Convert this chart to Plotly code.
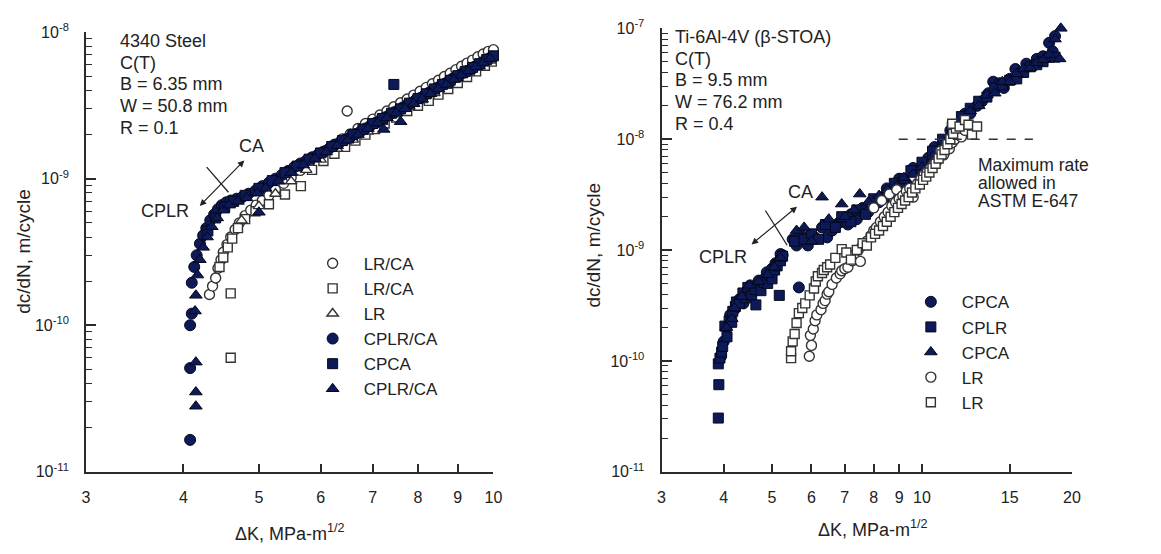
import plotly.graph_objects as go

# ---------------- 4340 steel, C(T), R = 0.1 ----------------
steel_lrca_circ_dk = [4.32, 4.36, 4.40, 4.43, 4.47, 4.50, 4.55, 4.60, 4.66, 4.72, 4.80, 4.88, 4.96, 5.05,
                      5.15, 5.25, 5.38, 5.50, 5.65, 5.80, 5.95, 6.10, 6.25, 6.40, 6.49, 6.55, 6.70, 6.85,
                      7.00, 7.15, 7.30, 7.45, 7.60, 7.75, 7.90, 8.05, 8.20, 8.35, 8.50, 8.65, 8.80, 8.95,
                      9.10, 9.25, 9.40, 9.55, 9.70, 9.85, 10.0]
steel_lrca_circ_rate = [1.62e-10, 1.85e-10, 2.1e-10, 2.45e-10, 2.8e-10, 3.15e-10, 3.55e-10, 4.0e-10, 4.5e-10,
                        5.0e-10, 5.6e-10, 6.1e-10, 6.6e-10, 7.1e-10, 7.7e-10, 8.4e-10, 9.3e-10, 1.02e-9,
                        1.14e-9, 1.28e-9, 1.42e-9, 1.56e-9, 1.72e-9, 1.87e-9, 2.9e-9, 2.02e-9, 2.2e-9,
                        2.38e-9, 2.55e-9, 2.72e-9, 2.9e-9, 3.1e-9, 3.3e-9, 3.5e-9, 3.72e-9, 3.95e-9, 4.2e-9,
                        4.45e-9, 4.7e-9, 4.98e-9, 5.25e-9, 5.55e-9, 5.85e-9, 6.15e-9, 6.45e-9, 6.8e-9,
                        7.1e-9, 7.4e-9, 7.6e-9]

steel_lrca_sq_dk = [4.60, 4.60, 4.45, 4.50, 4.56, 4.62, 4.70, 4.80, 4.95, 5.15, 5.40, 5.66, 5.85, 6.05,
                    6.25, 6.45, 6.65, 6.85, 7.05, 7.25, 7.50, 7.75, 8.00, 8.26, 8.50, 8.75, 9.00, 9.25,
                    9.50, 9.75, 9.95]
steel_lrca_sq_rate = [1.65e-10, 6.0e-11, 2.5e-10, 2.9e-10, 3.4e-10, 3.9e-10, 4.6e-10, 5.3e-10, 6.0e-10,
                      6.7e-10, 7.8e-10, 8.9e-10, 1.15e-9, 1.32e-9, 1.48e-9, 1.65e-9, 1.82e-9, 2.0e-9,
                      2.18e-9, 2.38e-9, 2.62e-9, 2.9e-9, 3.15e-9, 3.4e-9, 3.75e-9, 4.1e-9, 4.5e-9,
                      4.95e-9, 5.4e-9, 5.9e-9, 6.3e-9]

steel_lr_tri_dk = [4.75, 5.00, 5.25, 5.50, 5.75, 6.00, 6.30, 6.60, 6.90, 7.20, 7.50, 7.80, 8.10, 8.40,
                   8.70, 9.00, 9.30, 9.60, 9.90]
steel_lr_tri_rate = [5.2e-10, 6.5e-10, 7.9e-10, 9.6e-10, 1.15e-9, 1.35e-9, 1.6e-9, 1.85e-9, 2.1e-9,
                     2.45e-9, 2.75e-9, 3.1e-9, 3.45e-9, 3.85e-9, 4.3e-9, 4.8e-9, 5.3e-9, 5.85e-9, 6.4e-9]

steel_cplrca_circ_dk = [4.08, 4.08, 4.08, 4.10, 4.10, 4.13, 4.16, 4.20, 4.24, 4.28, 4.33, 4.38, 4.43, 4.48,
                        4.54, 4.60, 4.68, 4.76, 4.85, 4.95, 5.05, 5.15, 5.25, 5.35, 5.45, 5.55, 5.65, 5.75,
                        5.85, 5.95, 6.05, 6.15, 6.25, 6.35, 6.45, 6.55, 6.65, 6.75, 6.85, 6.95, 7.05, 7.15,
                        7.25, 7.35, 7.45, 7.55, 7.65, 7.75, 7.85, 7.95, 8.05, 8.15, 8.25, 8.35, 8.45, 8.55,
                        8.65, 8.75, 8.85, 8.95, 9.05, 9.15, 9.25, 9.35, 9.45, 9.55, 9.65, 9.75, 9.85, 9.95]
steel_cplrca_circ_rate = [1.65e-11, 5.1e-11, 1.0e-10, 1.2e-10, 1.95e-10, 2.5e-10, 3.0e-10, 3.6e-10, 4.1e-10,
                          4.6e-10, 5.2e-10, 5.7e-10, 6.2e-10, 6.6e-10, 6.9e-10, 7.1e-10, 7.3e-10, 7.5e-10,
                          7.9e-10, 8.3e-10, 8.9e-10, 9.4e-10, 1.0e-9, 1.06e-9, 1.13e-9, 1.2e-9, 1.27e-9,
                          1.33e-9, 1.4e-9, 1.46e-9, 1.53e-9, 1.6e-9, 1.69e-9, 1.77e-9, 1.85e-9, 1.92e-9,
                          2.02e-9, 2.1e-9, 2.2e-9, 2.3e-9, 2.4e-9, 2.5e-9, 2.62e-9, 2.72e-9, 2.84e-9, 2.95e-9,
                          3.07e-9, 3.2e-9, 3.3e-9, 3.45e-9, 3.55e-9, 3.7e-9, 3.85e-9, 4.0e-9, 4.15e-9, 4.3e-9,
                          4.45e-9, 4.6e-9, 4.8e-9, 4.95e-9, 5.1e-9, 5.3e-9, 5.45e-9, 5.6e-9, 5.8e-9, 6.0e-9,
                          6.2e-9, 6.4e-9, 6.6e-9, 6.8e-9]

steel_cpca_sq_dk = [4.30, 4.40, 4.52, 4.64, 4.80, 5.00, 5.20, 5.40, 5.60, 5.80, 6.00, 6.20, 6.40, 6.60,
                    6.80, 7.00, 7.20, 7.45, 7.40, 7.60, 7.80, 8.00, 8.20, 8.40, 8.60, 8.80, 9.00, 9.20,
                    9.40, 9.60, 9.80, 10.0]
steel_cpca_sq_rate = [4.4e-10, 5.4e-10, 6.4e-10, 7.0e-10, 7.7e-10, 8.6e-10, 9.7e-10, 1.1e-9, 1.22e-9,
                      1.36e-9, 1.5e-9, 1.66e-9, 1.82e-9, 2.0e-9, 2.18e-9, 2.38e-9, 2.58e-9, 4.4e-9, 2.8e-9,
                      3.0e-9, 3.28e-9, 3.52e-9, 3.8e-9, 4.1e-9, 4.4e-9, 4.7e-9, 5.05e-9, 5.4e-9, 5.75e-9,
                      6.1e-9, 6.5e-9, 6.9e-9]

steel_cplrca_tri_dk = [4.15, 4.15, 4.15, 4.14, 4.15, 4.17, 4.20, 4.24, 4.29, 4.35, 4.42, 4.50, 4.58, 4.70,
                       4.82, 5.00, 4.98, 5.10, 5.30, 5.50, 5.70, 5.90, 6.10, 6.30, 6.50, 6.70, 6.90, 7.10,
                       7.23, 7.30, 7.50, 7.60, 7.70, 7.90, 8.10, 8.30, 8.50, 8.70, 8.90, 9.10, 9.30, 9.50,
                       9.70, 9.90]
steel_cplrca_tri_rate = [2.8e-11, 3.5e-11, 5.6e-11, 1.25e-10, 1.6e-10, 2.2e-10, 2.8e-10, 3.4e-10, 4.0e-10,
                         4.7e-10, 5.4e-10, 6.1e-10, 6.6e-10, 7.0e-10, 7.4e-10, 5.9e-10, 8.0e-10, 8.6e-10,
                         9.6e-10, 1.1e-9, 1.24e-9, 1.37e-9, 1.52e-9, 1.68e-9, 1.83e-9, 2.0e-9, 2.2e-9, 2.4e-9,
                         2.17e-9, 2.6e-9, 2.8e-9, 2.45e-9, 3.0e-9, 3.25e-9, 3.5e-9, 3.8e-9, 4.1e-9, 4.4e-9,
                         4.75e-9, 5.1e-9, 5.45e-9, 5.8e-9, 6.2e-9, 6.6e-9]

# ---------------- Ti-6Al-4V (beta-STOA), C(T), R = 0.4 ----------------
ti_cpca_circ_dk = [3.95, 4.00, 4.05, 4.12, 4.20, 4.30, 4.38, 4.45, 4.52, 4.60, 4.70, 4.80, 4.88, 4.95,
                   5.00, 5.08, 5.15, 5.20, 5.25, 5.66, 5.50, 5.60, 5.70, 5.90, 6.00, 6.10, 6.30, 6.45,
                   6.60, 6.80, 6.90, 7.10, 7.20, 7.40, 7.60, 7.80, 8.00, 8.20, 8.50, 8.70, 9.00, 9.30,
                   9.60, 9.90, 10.3, 10.6, 11.0, 11.4, 11.8, 12.2, 12.5, 12.9, 13.2, 13.6, 13.9, 14.3,
                   14.6, 15.0, 15.4, 15.8, 16.2, 16.6, 17.0, 17.5, 18.0, 18.3, 18.5]
ti_cpca_circ_rate = [1.1e-10, 1.5e-10, 2.0e-10, 2.6e-10, 2.9e-10, 3.6e-10, 3.3e-10, 4.3e-10, 4.8e-10,
                     4.6e-10, 5.3e-10, 5.4e-10, 6.3e-10, 5.8e-10, 6.8e-10, 7.6e-10, 7.8e-10, 9.2e-10,
                     9.0e-10, 4.6e-10, 1.25e-9, 1.1e-9, 1.4e-9, 1.1e-9, 1.25e-9, 1.3e-9, 1.6e-9, 1.3e-9,
                     1.5e-9, 1.75e-9, 1.8e-9, 1.7e-9, 2.1e-9, 1.9e-9, 2.4e-9, 2.2e-9, 2.8e-9, 2.7e-9,
                     3.6e-9, 3.3e-9, 4.4e-9, 4.0e-9, 5.5e-9, 5.3e-9, 6.8e-9, 8.5e-9, 9.0e-9, 1.2e-8,
                     1.2e-8, 1.7e-8, 1.7e-8, 2.0e-8, 2.2e-8, 2.6e-8, 3.3e-8, 3.2e-8, 2.9e-8, 3.5e-8,
                     4.3e-8, 4.0e-8, 4.8e-8, 4.6e-8, 5.3e-8, 5.6e-8, 7.4e-8, 6.2e-8, 8.5e-8]

ti_cplr_sq_dk = [3.90, 3.91, 3.90, 3.93, 3.96, 3.98, 4.02, 4.06, 4.10, 4.15, 4.17, 4.22, 4.24, 4.30, 4.37,
                 4.42, 4.47, 4.55, 4.64, 4.62, 4.75, 4.82, 4.90, 4.96, 5.00, 5.06, 5.12, 5.17, 5.20, 5.25,
                 5.55, 5.80, 6.00, 6.20, 6.40, 6.70, 6.90, 7.20, 7.40, 7.70, 8.00, 8.40, 8.80, 9.20,
                 9.50, 10.0, 10.5, 11.0, 11.5, 12.0, 12.5, 13.0, 13.5, 14.0, 14.5, 15.0, 15.5, 16.0,
                 16.5, 17.0, 17.5, 18.0, 18.5]
ti_cplr_sq_rate = [3.05e-11, 6.1e-11, 9.4e-11, 1.06e-10, 1.2e-10, 1.35e-10, 2.06e-10, 1.65e-10, 2.3e-10,
                   2.23e-10, 2.8e-10, 3.1e-10, 3.4e-10, 3.3e-10, 4.1e-10, 3.7e-10, 4.6e-10, 3.9e-10,
                   3.2e-10, 4.4e-10, 4.3e-10, 5.1e-10, 5.0e-10, 5.9e-10, 5.5e-10, 6.6e-10, 7.2e-10,
                   3.9e-10, 8.0e-10, 8.8e-10, 1.2e-9, 1.25e-9, 1.4e-9, 1.25e-9, 1.7e-9, 1.6e-9, 2.0e-9,
                   1.8e-9, 2.3e-9, 2.1e-9, 2.9e-9, 3.0e-9, 4.0e-9, 4.4e-9, 5.2e-9, 6.2e-9, 7.8e-9,
                   1.0e-8, 1.3e-8, 1.6e-8, 1.9e-8, 2.2e-8, 2.4e-8, 2.9e-8, 3.1e-8, 3.4e-8, 3.5e-8,
                   4.0e-8, 4.5e-8, 4.7e-8, 5.0e-8, 5.5e-8, 5.5e-8]

ti_cpca_tri_dk = [4.05, 4.15, 4.20, 4.35, 4.50, 4.70, 4.90, 5.05, 5.20, 5.60, 5.80, 6.00, 6.30, 6.50,
                  6.90, 7.00, 7.30, 7.50, 7.80, 8.20, 8.50, 8.90, 9.20, 9.60, 10.0, 10.5, 11.0, 11.5,
                  12.0, 12.5, 13.0, 13.5, 14.0, 14.5, 15.0, 15.5, 16.0, 16.5, 17.0, 17.5, 18.0, 18.5,
                  18.9, 19.0]
ti_cpca_tri_rate = [2.0e-10, 2.4e-10, 3.0e-10, 3.8e-10, 4.8e-10, 5.2e-10, 6.0e-10, 7.0e-10, 8.5e-10,
                    1.5e-9, 1.6e-9, 1.2e-9, 3.0e-9, 1.9e-9, 2.6e-9, 2.0e-9, 2.3e-9, 3.2e-9, 2.7e-9,
                    3.1e-9, 3.5e-9, 3.8e-9, 4.5e-9, 4.8e-9, 5.6e-9, 7.0e-9, 8.5e-9, 1.1e-8, 1.3e-8,
                    1.8e-8, 2.0e-8, 2.5e-8, 2.6e-8, 3.3e-8, 3.3e-8, 3.9e-8, 4.3e-8, 4.4e-8, 4.9e-8,
                    5.2e-8, 5.8e-8, 8.0e-8, 5.3e-8, 1.0e-7]

ti_lr_circ_dk = [5.94, 6.00, 5.97, 6.05, 6.10, 6.15, 6.27, 6.33, 6.39, 6.45, 6.50, 6.60, 6.73, 6.85,
                 6.90, 7.00, 7.10, 7.25, 7.30, 7.52, 7.45, 7.60, 7.75, 7.90, 8.00, 8.10, 8.00, 8.25,
                 8.30, 8.40, 8.55, 8.60, 8.70, 8.85, 8.90, 9.00, 9.15, 9.30, 9.45, 9.60, 9.80, 9.95,
                 10.1, 10.25, 10.4, 10.55, 10.7, 10.9, 11.05, 11.2, 11.35, 11.5, 11.65, 11.8, 12.0,
                 12.2]
ti_lr_circ_rate = [1.1e-10, 1.38e-10, 1.7e-10, 1.94e-10, 2.3e-10, 2.6e-10, 2.9e-10, 3.3e-10, 3.5e-10,
                   4.0e-10, 4.2e-10, 4.9e-10, 5.6e-10, 6.1e-10, 6.5e-10, 6.8e-10, 7.0e-10, 8.0e-10,
                   9.0e-10, 7.9e-10, 1.0e-9, 1.1e-9, 1.2e-9, 1.35e-9, 1.5e-9, 1.6e-9, 2.4e-9, 1.8e-9,
                   2.8e-9, 2.0e-9, 2.2e-9, 3.2e-9, 2.5e-9, 2.7e-9, 3.5e-9, 2.9e-9, 3.1e-9, 3.4e-9,
                   3.6e-9, 3.0e-9, 4.0e-9, 4.4e-9, 4.8e-9, 5.1e-9, 5.5e-9, 5.9e-9, 6.3e-9, 7.8e-9,
                   7.2e-9, 8.7e-9, 8.2e-9, 9.3e-9, 1.0e-8, 1.12e-8, 1.05e-8, 1.2e-8]

ti_lr_sq_dk = [5.46, 5.46, 5.50, 5.55, 5.60, 5.66, 5.75, 5.83, 5.95, 6.07, 6.12, 6.18, 6.30, 6.35, 6.45,
               6.54, 6.70, 6.90, 7.05, 7.20, 7.40, 7.60, 7.75, 7.90, 8.05, 8.20, 8.35, 8.50, 8.65,
               8.80, 8.95, 9.10, 9.25, 9.40, 9.55, 9.70, 9.90, 10.05, 10.2, 10.35, 10.5, 10.65, 10.8,
               10.95, 11.1, 11.25, 11.4, 11.55, 11.7, 11.5, 11.9, 12.2, 12.4, 12.6, 12.9]
ti_lr_sq_rate = [1.06e-10, 1.22e-10, 1.5e-10, 1.75e-10, 2.2e-10, 2.7e-10, 3.0e-10, 3.3e-10, 3.9e-10,
                 4.5e-10, 5.2e-10, 5.8e-10, 6.2e-10, 6.6e-10, 7.0e-10, 7.4e-10, 8.5e-10, 1.02e-9,
                 9.5e-10, 8.2e-10, 1.0e-9, 1.15e-9, 1.1e-9, 1.3e-9, 1.4e-9, 1.5e-9, 1.65e-9, 1.8e-9,
                 2.0e-9, 2.2e-9, 2.4e-9, 2.6e-9, 2.8e-9, 3.0e-9, 3.3e-9, 3.6e-9, 3.9e-9, 4.3e-9,
                 4.6e-9, 5.0e-9, 5.5e-9, 6.0e-9, 6.7e-9, 7.3e-9, 8.0e-9, 9.0e-9, 1.0e-8, 1.12e-8,
                 1.25e-8, 1.38e-8, 1.3e-8, 1.49e-8, 1.35e-8, 1.1e-8, 1.3e-8]

# ASTM E-647 upper limit on growth rate and the K span of the dashed marker line
astm_max_rate = 1e-8
astm_line_dk = [8.98, 16.7]

# tick labels
steel_x_ticks = [3, 4, 5, 6, 7, 8, 9, 10]
ti_x_ticks = [3, 4, 5, 6, 7, 8, 9, 10, 15, 20]
steel_y_exps = [-11, -10, -9, -8]
ti_y_exps = [-11, -10, -9, -8, -7]

# ---------------- styling ----------------
W, H = 1161, 554
NAVY = "#0d1a57"
INK = "#222222"
AXIS = "#2b2b2b"
FONT = "Liberation Sans, Arial, sans-serif"


def px_x(p):
    return p / W


def px_y(p):
    return 1 - p / H


def filled(symbol, size):
    return dict(symbol=symbol, size=size, color=NAVY, line=dict(color="#05081c", width=1))


def hollow(symbol, size):
    return dict(symbol=symbol, size=size, color="white", line=dict(color="#333333", width=1.4))


fig = go.Figure()

steel_series = [
    ("LR/CA", steel_lrca_circ_dk, steel_lrca_circ_rate, hollow("circle", 10)),
    ("LR/CA", steel_lrca_sq_dk, steel_lrca_sq_rate, hollow("square", 9)),
    ("LR", steel_lr_tri_dk, steel_lr_tri_rate, hollow("triangle-up", 10)),
    ("CPLR/CA", steel_cplrca_circ_dk, steel_cplrca_circ_rate, filled("circle", 11)),
    ("CPCA", steel_cpca_sq_dk, steel_cpca_sq_rate, filled("square", 10)),
    ("CPLR/CA", steel_cplrca_tri_dk, steel_cplrca_tri_rate, filled("triangle-up", 11)),
]
for i, (name, dk, rate, marker) in enumerate(steel_series):
    fig.add_trace(go.Scatter(x=dk, y=rate, mode="markers", name=name, marker=marker,
                             xaxis="x", yaxis="y", legend="legend", legendgroup=f"s{i}",
                             cliponaxis=False))

ti_series = [
    ("CPCA", ti_cpca_circ_dk, ti_cpca_circ_rate, filled("circle", 11)),
    ("CPLR", ti_cplr_sq_dk, ti_cplr_sq_rate, filled("square", 10)),
    ("CPCA", ti_cpca_tri_dk, ti_cpca_tri_rate, filled("triangle-up", 11)),
    ("LR", ti_lr_circ_dk, ti_lr_circ_rate, hollow("circle", 10)),
    ("LR", ti_lr_sq_dk, ti_lr_sq_rate, hollow("square", 9)),
]
for i, (name, dk, rate, marker) in enumerate(ti_series):
    fig.add_trace(go.Scatter(x=dk, y=rate, mode="markers", name=name, marker=marker,
                             xaxis="x2", yaxis="y2", legend="legend2", legendgroup=f"t{i}",
                             cliponaxis=False))

# dashed ASTM limit line
fig.add_trace(go.Scatter(x=astm_line_dk, y=[astm_max_rate, astm_max_rate], mode="lines",
                         line=dict(color="#333333", width=1.5, dash="dash"),
                         xaxis="x2", yaxis="y2", showlegend=False, hoverinfo="skip"))


def minor_vals(exps):
    vals = []
    for e in exps[:-1]:
        vals += [m * 10.0 ** e for m in range(2, 10)]
    return vals


def sci_label(e):
    return f"10<sup>{e}</sup>"


common_axis = dict(type="log", showline=True, linecolor=AXIS, linewidth=2, showgrid=False,
                   zeroline=False, ticks="inside", tickcolor=AXIS, tickwidth=1.5, mirror=False,
                   tickfont=dict(family=FONT, size=16, color=INK))

fig.update_layout(
    width=W, height=H, margin=dict(l=0, r=0, t=0, b=0),
    paper_bgcolor="white", plot_bgcolor="white",
    font=dict(family=FONT, color=INK),
    xaxis=dict(common_axis, domain=[px_x(83), px_x(495)], anchor="y",
               range=[0.47712, 1.0], tickmode="array", tickvals=steel_x_ticks,
               ticktext=[str(v) for v in steel_x_ticks], ticklen=8, ticklabelstandoff=10),
    yaxis=dict(common_axis, domain=[px_y(478), px_y(22)], anchor="x",
               range=[-11, -8], tickmode="array", tickvals=[10.0 ** e for e in steel_y_exps],
               ticktext=[sci_label(e) for e in steel_y_exps], ticklen=10, ticklabelstandoff=12,
               minor=dict(tickmode="array", tickvals=minor_vals(steel_y_exps), ticks="inside",
                          ticklen=6, tickcolor=AXIS, tickwidth=1.2, showgrid=False)),
    xaxis2=dict(common_axis, domain=[px_x(665), px_x(1080)], anchor="y2",
                range=[0.47712, 1.30103], tickmode="array", tickvals=ti_x_ticks,
                ticktext=[str(v) for v in ti_x_ticks], ticklen=8, ticklabelstandoff=10),
    yaxis2=dict(common_axis, domain=[px_y(478), px_y(18)], anchor="x2",
                range=[-11, -7], tickmode="array", tickvals=[10.0 ** e for e in ti_y_exps],
                ticktext=[sci_label(e) for e in ti_y_exps], ticklen=10, ticklabelstandoff=12,
                minor=dict(tickmode="array", tickvals=minor_vals(ti_y_exps), ticks="inside",
                           ticklen=6, tickcolor=AXIS, tickwidth=1.2, showgrid=False)),
    legend=dict(x=px_x(301), y=px_y(243.5), xanchor="left", yanchor="top", bgcolor="rgba(0,0,0,0)",
                font=dict(family=FONT, size=17, color=INK), itemwidth=52, tracegroupgap=0,
                traceorder="normal", itemclick=False),
    legend2=dict(x=px_x(906), y=px_y(283.5), xanchor="left", yanchor="top", bgcolor="rgba(0,0,0,0)",
                 font=dict(family=FONT, size=17, color=INK), itemwidth=52, tracegroupgap=0,
                 traceorder="normal", itemclick=False),
)

annotations = []


def label(text, x, y, size=18, xanchor="left", angle=0):
    annotations.append(dict(text=text, x=px_x(x), y=px_y(y), xref="paper", yref="paper",
                            xanchor=xanchor, yanchor="middle", showarrow=False, textangle=angle,
                            font=dict(family=FONT, size=size, color=INK)))


for i, line in enumerate(["4340 Steel", "C(T)", "B = 6.35 mm", "W = 50.8 mm", "R = 0.1"]):
    label(line, 115, 31 + 22.5 * i)
for i, line in enumerate(["Ti-6Al-4V (\u03b2-STOA)", "C(T)", "B = 9.5 mm", "W = 76.2 mm", "R = 0.4"]):
    label(line, 677, 27 + 22.5 * i)
for i, line in enumerate(["Maximum rate", "allowed in", "ASTM E-647"]):
    label(line, 983, 160 + 18.5 * i, size=17.5)

label("CA", 250, 140, xanchor="center")
label("CPLR", 163, 208, xanchor="center")
label("CA", 806, 188, xanchor="center")
label("CPLR", 727, 255, xanchor="center")

label("dc/dN, m/cycle", 19, 249, size=19, xanchor="center", angle=-90)
label("dc/dN, m/cycle", 596, 243, size=19, xanchor="center", angle=-90)
label("\u0394K, MPa-m<sup>1/2</sup>", 289, 541, xanchor="center")
label("\u0394K, MPa-m<sup>1/2</sup>", 879, 537, xanchor="center")

# double-headed arrows showing the CPLR -> CA transition
for (x0, y0, x1, y1) in [(197, 202, 243, 155), (755, 242, 802, 203)]:
    annotations.append(dict(x=px_x(x1), y=px_y(y1), xref="paper", yref="paper",
                            ax=x0 - x1, ay=y0 - y1, axref="pixel", ayref="pixel", text="",
                            showarrow=True, arrowhead=2, startarrowhead=2, arrowside="end+start",
                            arrowsize=1.1, arrowwidth=1.2, arrowcolor=INK))

fig.update_layout(annotations=annotations)

# crossing tick marking the transition point
for (x0, y0, x1, y1) in [(205, 162, 227, 188), (770, 207, 792, 243)]:
    fig.add_shape(type="line", xref="paper", yref="paper", x0=px_x(x0), y0=px_y(y0),
                  x1=px_x(x1), y1=px_y(y1), line=dict(color=INK, width=1.3))

fig.write_html("out.html")
